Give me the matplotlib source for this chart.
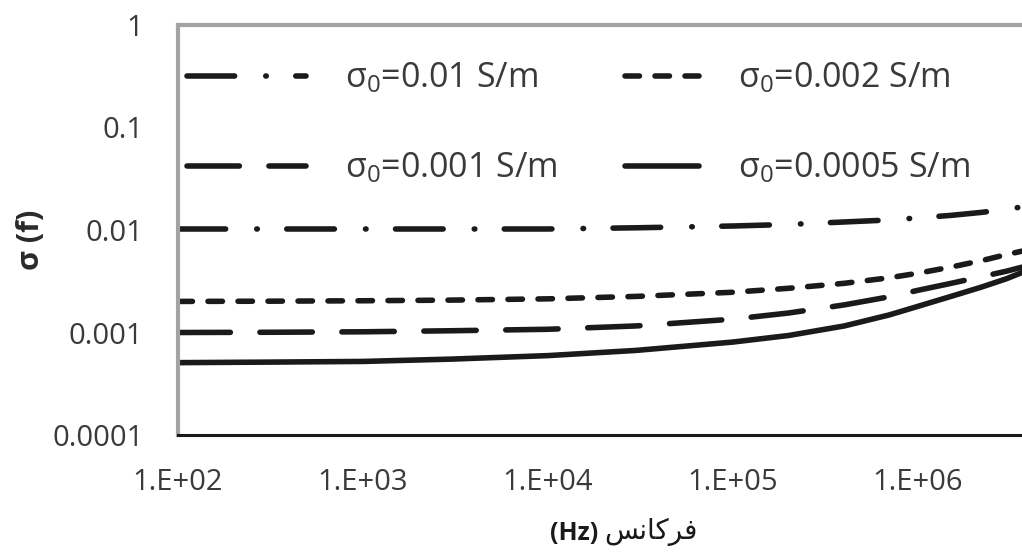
import math

import matplotlib
matplotlib.use("Agg")
import matplotlib.pyplot as plt
from matplotlib.ticker import FixedLocator, FuncFormatter, NullLocator

plt.rcParams["font.family"] = ["Open Sans", "DejaVu Sans"]
plt.rcParams["mathtext.default"] = "regular"
plt.rcParams["lines.scale_dashes"] = False

# --- data -------------------------------------------------------------
freq_hz = [1e2, 3e2, 1e3, 3e3, 1e4, 3e4, 1e5, 2e5, 4e5, 7e5,
           1e6, 1.5e6, 2.2e6, 3e6, 3.65e6]

sigma_0_01 = [0.01023, 0.01023, 0.01023, 0.01023, 0.01023, 0.01051, 0.01094, 0.01133,
              0.01198, 0.01253, 0.01313, 0.01388, 0.01485, 0.0159, 0.0168]
sigma_0_002 = [0.00201, 0.00202, 0.00204, 0.00207, 0.00213, 0.00225, 0.00247, 0.0027,
               0.00302, 0.00342, 0.00379, 0.00434, 0.00502, 0.00575, 0.00622]
sigma_0_001 = [0.001, 0.001005, 0.001016, 0.00104, 0.001075, 0.001159, 0.00135, 0.00155,
               0.00186, 0.00223, 0.00258, 0.00301, 0.0035, 0.00396, 0.00434]
sigma_0_0005 = [0.000508, 0.000514, 0.000522, 0.00055, 0.000595, 0.000669, 0.000807, 0.000935,
                0.001159, 0.001485, 0.0018, 0.002244, 0.00277, 0.00334, 0.00385]

labels = ["σ$_0$=0.01 S/m", "σ$_0$=0.002 S/m", "σ$_0$=0.001 S/m", "σ$_0$=0.0005 S/m"]

y_ticks = [1e-4, 1e-3, 1e-2, 1e-1, 1]
y_ticklabels = ["0.0001", "0.001", "0.01", "0.1", "1"]
x_ticks = [1e2, 1e3, 1e4, 1e5, 1e6]

# "فرکانس" in presentation forms, visual (left-to-right) order
freq_word = "\uFEB2\uFEE7\uFE8E\uFB90\uFEAE\uFED3"

# --- figure -----------------------------------------------------------
W, H = 1022, 556
fig = plt.figure(figsize=(W / 100, H / 100), dpi=100)
ax = fig.add_axes([178 / W, 1 - 435 / H, 1 - 178 / W, 410 / H])

ax.set_xscale("log")
ax.set_yscale("log")
ax.set_xlim(1e2, 3.65e6)
ax.set_ylim(1e-4, 1)

line_kw = dict(color="#1a1a1a", lw=4.0, dash_capstyle="round", solid_capstyle="round")
l1, = ax.plot(freq_hz, sigma_0_01, dashes=(34.3, 22.4, 0.4, 21.2), **line_kw)
l2, = ax.plot(freq_hz, sigma_0_002, dashes=(10.4, 11.2), **line_kw)
l3, = ax.plot(freq_hz, sigma_0_001, dashes=(37.7, 21.3), **line_kw)
l4, = ax.plot(freq_hz, sigma_0_0005, **line_kw)

# frame: grey left/top, black x axis
ax.spines["right"].set_visible(False)
for side in ("left", "top"):
    ax.spines[side].set_color("#a3a3a3")
    ax.spines[side].set_linewidth(3)
ax.spines["bottom"].set_color("#1a1a1a")
ax.spines["bottom"].set_linewidth(2.2)

ax.yaxis.set_major_locator(FixedLocator(y_ticks))
ax.yaxis.set_major_formatter(FuncFormatter(
    lambda v, p: y_ticklabels[y_ticks.index(v)] if v in y_ticks else ""))
ax.yaxis.set_minor_locator(NullLocator())
ax.xaxis.set_major_locator(FixedLocator(x_ticks))
ax.xaxis.set_major_formatter(FuncFormatter(lambda v, p: "1.E+%02d" % round(math.log10(v))))
ax.xaxis.set_minor_locator(NullLocator())

ax.tick_params(axis="both", length=0, labelsize=21, labelcolor="#3a3a3a")
ax.tick_params(axis="y", pad=25)
ax.tick_params(axis="x", pad=24)

# legend in two columns, each with its own handle length
leg_kw = dict(loc="upper left", bbox_transform=fig.transFigure, frameon=False,
              borderpad=0, borderaxespad=0, handletextpad=1.15, labelspacing=1.62,
              fontsize=24.5, labelcolor="#3a3a3a")
leg1 = ax.legend([l1, l3], [labels[0], labels[2]], bbox_to_anchor=(187 / W, 1 - 61 / H),
                 handlelength=3.5, **leg_kw)
ax.add_artist(leg1)
ax.legend([l2, l4], [labels[1], labels[3]], bbox_to_anchor=(625 / W, 1 - 61 / H),
          handlelength=2.18, **leg_kw)

fig.text(31 / W, 1 - 240 / H, "σ (f)", rotation=90, ha="center", va="center",
         fontsize=22, fontweight="bold", color="#2a2a2a")
fig.text(598 / W, 1 - 534 / H, "(Hz)", ha="right", va="center",
         fontsize=18, fontweight="bold", color="#1a1a1a")
fig.text(604 / W, 1 - 532 / H, freq_word, ha="left", va="center",
         fontsize=20, color="#1a1a1a", family="DejaVu Sans")

fig.savefig("out.png", dpi=100)
